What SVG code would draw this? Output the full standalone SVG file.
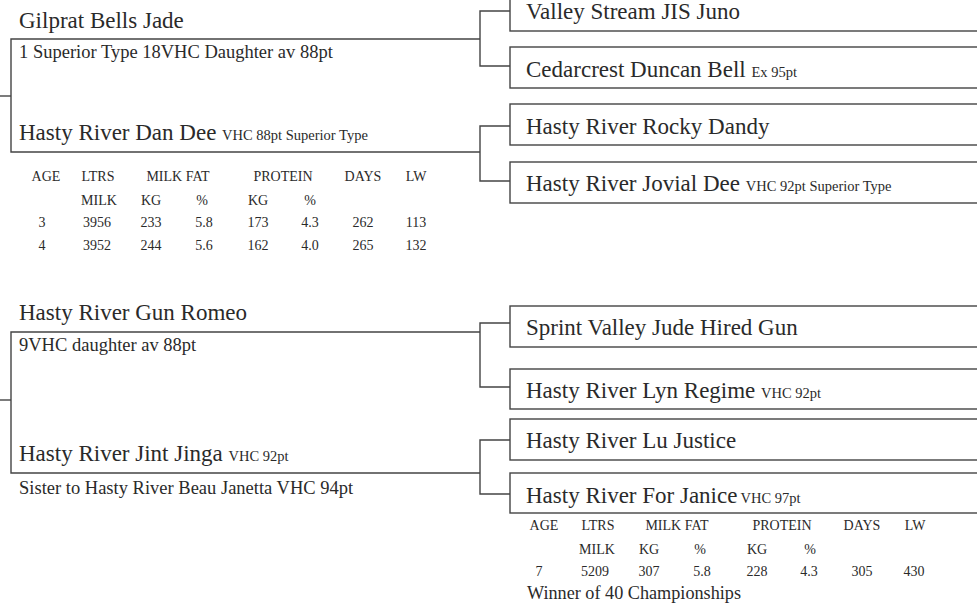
<svg xmlns="http://www.w3.org/2000/svg" width="977" height="607" viewBox="0 0 977 607">
<style>
text{font-family:"Liberation Serif","DejaVu Serif",serif;fill:#2a2a2a}
.n{font-size:23px}
.s{font-size:14.5px}
.d{font-size:18.5px}
.w{font-size:18.2px}
.t{font-size:14px;text-anchor:middle}
.ln{fill:none;stroke:#444;stroke-width:1.4}
.bx{fill:#fff;stroke:#444;stroke-width:1.4}
</style>
<rect width="977" height="607" fill="#fff"/>
<g id="connectors">
<path class="ln" d="M0,96 H11"/>
<path class="ln" d="M510,11 H480 V66 H510"/>
<path class="ln" d="M510,126 H480 V181 H510"/>
<path class="ln" d="M0,400 H11"/>
<path class="ln" d="M510,323 H480 V387 H510"/>
<path class="ln" d="M510,440 H480 V494 H510"/>
</g>
<g id="gilprat-bells-jade">
<path class="ln" d="M480,39 H11 V152 H480"/>
<text class="n" x="19" y="28">Gilprat Bells Jade</text>
<text class="d" x="19" y="58">1 Superior Type 18VHC Daughter av 88pt</text>
</g>
<g id="hasty-river-dan-dee">
<text class="n" x="19" y="140">Hasty River Dan Dee <tspan class="s">VHC 88pt Superior Type</tspan></text>
<g id="table1">
<text class="t" x="46" y="181">AGE</text><text class="t" x="98" y="181">LTRS</text><text class="t" x="178" y="181">MILK FAT</text><text class="t" x="283" y="181">PROTEIN</text><text class="t" x="363" y="181">DAYS</text><text class="t" x="416" y="181">LW</text>
<text class="t" x="99" y="205">MILK</text><text class="t" x="151" y="205">KG</text><text class="t" x="202" y="205">%</text><text class="t" x="258" y="205">KG</text><text class="t" x="310" y="205">%</text>
<text class="t" x="42" y="227">3</text><text class="t" x="97" y="227">3956</text><text class="t" x="151" y="227">233</text><text class="t" x="204" y="227">5.8</text><text class="t" x="258" y="227">173</text><text class="t" x="310" y="227">4.3</text><text class="t" x="363" y="227">262</text><text class="t" x="416" y="227">113</text>
<text class="t" x="42" y="250">4</text><text class="t" x="97" y="250">3952</text><text class="t" x="151" y="250">244</text><text class="t" x="204" y="250">5.6</text><text class="t" x="258" y="250">162</text><text class="t" x="310" y="250">4.0</text><text class="t" x="363" y="250">265</text><text class="t" x="416" y="250">132</text>
</g>
</g>
<g id="valley-stream-jis-juno">
<rect class="bx" x="510" y="-10" width="480" height="41"/>
<text class="n" x="526" y="19">Valley Stream JIS Juno</text>
</g>
<g id="cedarcrest-duncan-bell">
<rect class="bx" x="510" y="47" width="480" height="41"/>
<text class="n" x="526" y="77">Cedarcrest Duncan Bell <tspan class="s" font-size="13">Ex 95pt</tspan></text>
</g>
<g id="hasty-river-rocky-dandy">
<rect class="bx" x="510" y="104" width="480" height="41"/>
<text class="n" x="526" y="134">Hasty River Rocky Dandy</text>
</g>
<g id="hasty-river-jovial-dee">
<rect class="bx" x="510" y="162" width="480" height="41"/>
<text class="n" x="526" y="191">Hasty River Jovial Dee <tspan class="s">VHC 92pt Superior Type</tspan></text>
</g>
<g id="hasty-river-gun-romeo">
<path class="ln" d="M480,332 H11 V473 H480"/>
<text class="n" x="19" y="320">Hasty River Gun Romeo</text>
<text class="d" x="19" y="351">9VHC daughter av 88pt</text>
</g>
<g id="hasty-river-jint-jinga">
<text class="n" x="19" y="461">Hasty River Jint Jinga <tspan class="s">VHC 92pt</tspan></text>
<text class="d" x="19" y="494">Sister to Hasty River Beau Janetta VHC 94pt</text>
</g>
<g id="sprint-valley-jude-hired-gun">
<rect class="bx" x="510" y="306" width="480" height="41"/>
<text class="n" x="526" y="335">Sprint Valley Jude Hired Gun</text>
</g>
<g id="hasty-river-lyn-regime">
<rect class="bx" x="510" y="369" width="480" height="40"/>
<text class="n" x="526" y="398">Hasty River Lyn Regime <tspan class="s">VHC 92pt</tspan></text>
</g>
<g id="hasty-river-lu-justice">
<rect class="bx" x="510" y="419" width="480" height="41"/>
<text class="n" x="526" y="448">Hasty River Lu Justice</text>
</g>
<g id="hasty-river-for-janice">
<rect class="bx" x="510" y="473" width="480" height="40"/>
<text class="n" x="526" y="503">Hasty River For Janice<tspan class="s" dx="3">VHC 97pt</tspan></text>
<g id="table2">
<text class="t" x="544" y="530">AGE</text><text class="t" x="598" y="530">LTRS</text><text class="t" x="677" y="530">MILK FAT</text><text class="t" x="782" y="530">PROTEIN</text><text class="t" x="862" y="530">DAYS</text><text class="t" x="915" y="530">LW</text>
<text class="t" x="597" y="554">MILK</text><text class="t" x="649" y="554">KG</text><text class="t" x="700" y="554">%</text><text class="t" x="757" y="554">KG</text><text class="t" x="810" y="554">%</text>
<text class="t" x="539" y="576">7</text><text class="t" x="595" y="576">5209</text><text class="t" x="649" y="576">307</text><text class="t" x="702" y="576">5.8</text><text class="t" x="757" y="576">228</text><text class="t" x="809" y="576">4.3</text><text class="t" x="862" y="576">305</text><text class="t" x="914" y="576">430</text>
</g>
<text class="w" x="527" y="599">Winner of 40 Championships</text>
</g>
</svg>
